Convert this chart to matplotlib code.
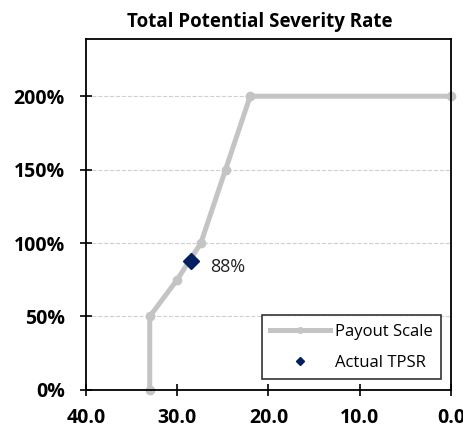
import matplotlib
matplotlib.use("Agg")
import matplotlib.pyplot as plt
from matplotlib.ticker import FuncFormatter

# payout scale (TPSR -> payout %)
scale_x = [33.0, 33.0, 30.0, 27.4, 24.7, 22.0, 0.0]
scale_y = [0, 50, 75, 100, 150, 200, 200]

# actual result
actual_x = [28.5]
actual_y = [88]
actual_label = "88%"

x_ticks = [40, 30, 20, 10, 0]
y_ticks = [0, 50, 100, 150, 200]

plt.rcParams['font.family'] = ['Open Sans', 'DejaVu Sans']

fig = plt.figure(figsize=(4.64, 4.28), dpi=100)
ax = fig.add_axes([0.185, 0.089, 0.787, 0.82])

ax.plot(scale_x, scale_y, color="#c4c4c4", lw=3.6, marker="o", ms=6,
        label="Payout Scale", zorder=2, clip_on=False)
ax.plot(actual_x, actual_y, ls="none", marker="D", ms=8, color="#002060",
        label="Actual TPSR", zorder=3)
ax.annotate(actual_label, (actual_x[0], actual_y[0]), xytext=(14, -8),
            textcoords="offset points", fontsize=13, color="#222222")

ax.set_xlim(40, 0)
ax.set_ylim(0, 239)
ax.set_xticks(x_ticks)
ax.set_yticks(y_ticks)
ax.xaxis.set_major_formatter(FuncFormatter(lambda v, p: f"{v:.1f}"))
ax.yaxis.set_major_formatter(FuncFormatter(lambda v, p: f"{v:.0f}%"))
for lab in ax.get_xticklabels() + ax.get_yticklabels():
    lab.set_fontweight("bold")
    lab.set_fontsize(14)
ax.tick_params(direction="inout", length=8, width=1.2)
ax.tick_params(axis="y", pad=11)
ax.tick_params(axis="x", pad=9)

ax.grid(axis="y", color="#d0d0d0", linestyle="--", lw=0.8)
ax.set_axisbelow(True)
for s in ax.spines.values():
    s.set_linewidth(1.3)

fig.text(260 / 464, 1 - 22 / 428, "Total Potential Severity Rate", fontsize=13.5,
         fontweight="bold", ha="center", va="center")

leg = ax.legend(loc="lower right", fontsize=12, handlelength=3.6, borderpad=0.5,
                labelspacing=0.9, handletextpad=0.3, fancybox=False,
                edgecolor="black", borderaxespad=0, bbox_to_anchor=(0.973, 0.031))
leg.get_frame().set_linewidth(1.2)
leg.legend_handles[0].set_markersize(4)
leg.legend_handles[1].set_markersize(4)

fig.savefig("out.png", dpi=100)
